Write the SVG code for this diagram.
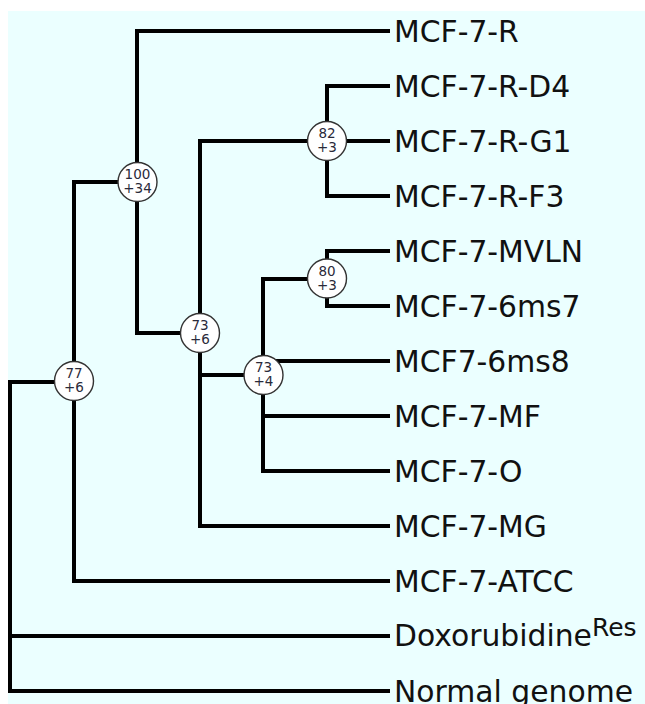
<svg xmlns="http://www.w3.org/2000/svg" width="645" height="704" viewBox="0 0 645 704">
<style>
.bg{fill:#ebffff}
.edge{fill:none;stroke:#000;stroke-width:4;stroke-linejoin:miter;stroke-linecap:butt}
.node circle{fill:#fff;stroke:#333;stroke-width:1.4}
.node text{font-family:"DejaVu Sans",Verdana,sans-serif;font-size:13.5px;fill:#2a2a3a;text-anchor:middle}
.leaf text{font-family:"DejaVu Sans",Verdana,sans-serif;font-size:29.8px;fill:#111}
</style>
<rect class="bg" x="8" y="11" width="637" height="693"/>
<g id="connectors">
<path class="edge" d="M54,382 H10 V691 H390 M10,636 H390"/>
<path class="edge" d="M137,182 H74 V581 H390"/>
<path class="edge" d="M390,31 H137 V333 H200"/>
<path class="edge" d="M327,141 H200 V526 H390 M200,375 H263"/>
<path class="edge" d="M390,86 H327 V196 H390 M327,141 H390"/>
<path class="edge" d="M327,279 H263 V471 H390 M263,361 H390 M263,416 H390"/>
<path class="edge" d="M390,251 H327 V306 H390"/>
</g>
<g id="n77" class="node"><circle cx="74" cy="381" r="19.5"/><text x="74" y="378">77</text><text x="74" y="392">+6</text></g>
<g id="n100" class="node"><circle cx="137.5" cy="182" r="19.5"/><text x="137.5" y="179">100</text><text x="137.5" y="193">+34</text></g>
<g id="n73a" class="node"><circle cx="200" cy="333" r="19.5"/><text x="200" y="330">73</text><text x="200" y="344">+6</text></g>
<g id="n82" class="node"><circle cx="327" cy="141" r="19.5"/><text x="327" y="138">82</text><text x="327" y="152">+3</text></g>
<g id="n73b" class="node"><circle cx="263.5" cy="375" r="19.5"/><text x="263.5" y="372">73</text><text x="263.5" y="386">+4</text></g>
<g id="n80" class="node"><circle cx="327" cy="278.5" r="19.5"/><text x="327" y="275.5">80</text><text x="327" y="289.5">+3</text></g>
<g id="l1" class="leaf"><text x="394" y="41.5">MCF-7-R</text></g>
<g id="l2" class="leaf"><text x="394" y="96.5">MCF-7-R-D4</text></g>
<g id="l3" class="leaf"><text x="394" y="151.5">MCF-7-R-G1</text></g>
<g id="l4" class="leaf"><text x="394" y="206.5">MCF-7-R-F3</text></g>
<g id="l5" class="leaf"><text x="394" y="261.5">MCF-7-MVLN</text></g>
<g id="l6" class="leaf"><text x="394" y="316.5">MCF-7-6ms7</text></g>
<g id="l7" class="leaf"><text x="394" y="371.5">MCF7-6ms8</text></g>
<g id="l8" class="leaf"><text x="394" y="426.5">MCF-7-MF</text></g>
<g id="l9" class="leaf"><text x="394" y="481.5">MCF-7-O</text></g>
<g id="l10" class="leaf"><text x="394" y="536.5">MCF-7-MG</text></g>
<g id="l11" class="leaf"><text x="394" y="591.5">MCF-7-ATCC</text></g>
<g id="l12" class="leaf"><text x="394" y="646">Doxorubidine<tspan font-size="25" dy="-10.5">Res</tspan></text></g>
<g id="l13" class="leaf"><text x="394" y="701.5">Normal genome</text></g>
</svg>
